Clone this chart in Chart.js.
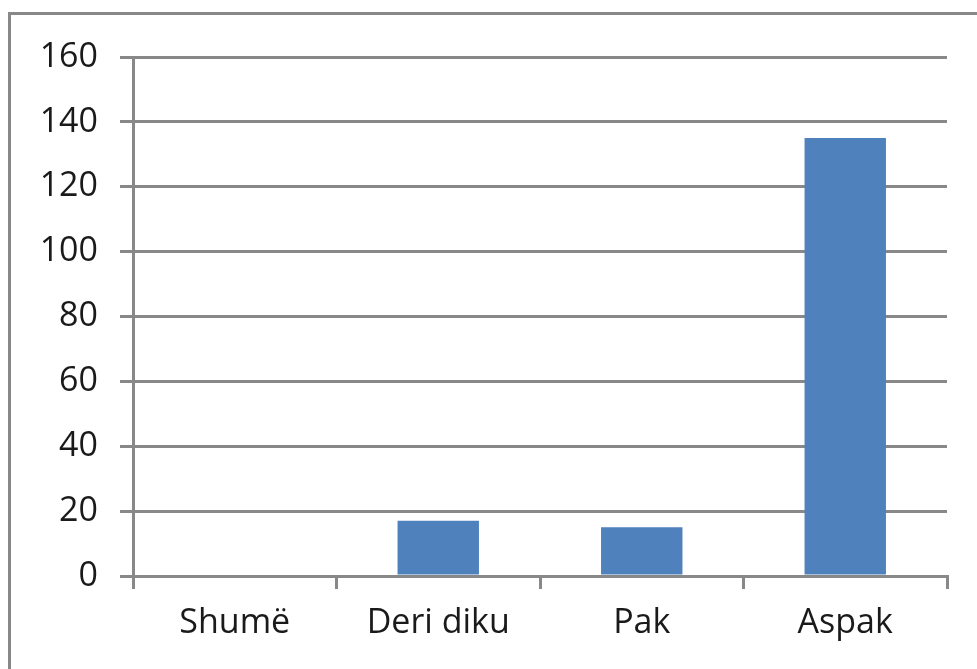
<!DOCTYPE html>
<html>
<head>
<meta charset="utf-8">
<script src="https://cdn.jsdelivr.net/npm/chart.js@4/dist/chart.umd.min.js"></script>
<style>
  html, body { margin: 0; padding: 0; background: #fff; }
  #wrap { position: relative; width: 977px; height: 669px; }
  #frame {
    position: absolute; left: 8px; top: 12px; right: 0; bottom: 0;
    border-left: 3px solid #888; border-top: 3px solid #888;
  }
  #chart { position: absolute; left: 0; top: 0; }
</style>
</head>
<body>
<div id="wrap">
  <div id="frame"></div>
  <canvas id="chart" width="977" height="669"></canvas>
</div>
<script>
const categories = ['Shumë', 'Deri diku', 'Pak', 'Aspak'];
const values = [0, 17, 15, 135];
const yTicks = [0, 20, 40, 60, 80, 100, 120, 140, 160];

const gridColor = '#888888';
const labelFont = { family: 'Open Sans', size: 34 };

const ctx = document.getElementById('chart').getContext('2d');
new Chart(ctx, {
  type: 'bar',
  data: {
    labels: categories,
    datasets: [{
      data: values,
      backgroundColor: '#4F81BD',
      categoryPercentage: 1.0,
      barPercentage: 0.4,
    }]
  },
  options: {
    responsive: false,
    animation: false,
    layout: { padding: { left: 0, right: 30, top: 57, bottom: 0 } },
    plugins: {
      legend: { display: false },
      tooltip: { enabled: false },
    },
    scales: {
      x: {
        offset: true,
        grid: {
          offset: true,
          drawOnChartArea: false,
          drawTicks: true,
          tickLength: 13,
          color: gridColor,
          lineWidth: 3,
        },
        border: { display: true, color: gridColor, width: 3 },
        ticks: { font: labelFont, color: '#1a1a1a', padding: 14 },
        afterFit: (scale) => { scale.height = 93; },
      },
      y: {
        min: 0,
        max: yTicks[yTicks.length - 1],
        afterBuildTicks: (scale) => { scale.ticks = yTicks.map(v => ({ value: v })); },
        grid: {
          color: gridColor,
          lineWidth: 3,
          tickLength: 13,
        },
        border: { display: true, color: gridColor, width: 3 },
        ticks: { font: labelFont, color: '#1a1a1a', padding: 22 },
        afterFit: (scale) => { scale.width = 133; },
      }
    }
  }
});
</script>
</body>
</html>
